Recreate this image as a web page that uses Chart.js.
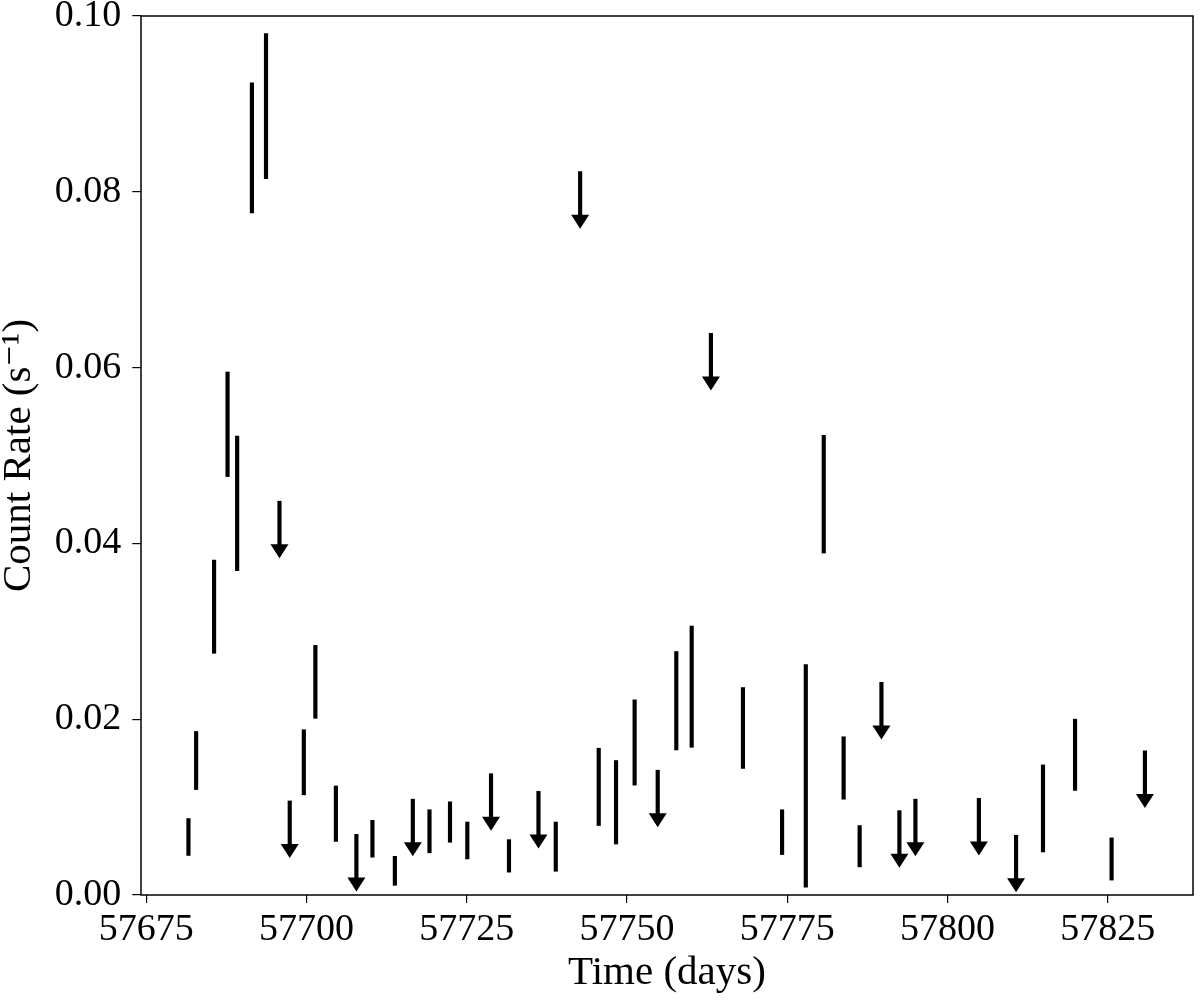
<!DOCTYPE html>
<html>
<head>
<meta charset="utf-8">
<script src="https://cdn.jsdelivr.net/npm/chart.js@4.4.1/dist/chart.umd.min.js"></script>
<style>
  body { margin: 0; background: #fff; }
  #wrap { width: 1200px; height: 1000px; }
</style>
</head>
<body>
<div id="wrap"><canvas id="lc" width="1200" height="1000"></canvas></div>
<script>
// detections: time (MJD) with the low / high end of the error bar
const detDays = [57681.6, 57682.8, 57685.6, 57687.7, 57689.2, 57691.5, 57693.7,
  57699.6, 57701.4, 57704.6, 57710.3, 57713.8, 57719.2, 57722.4, 57725.1,
  57731.6, 57738.9, 57745.6, 57748.3, 57751.2, 57757.7, 57760.1, 57768.1,
  57774.2, 57777.9, 57780.7, 57783.8, 57786.3, 57814.9, 57819.9, 57825.6];
const detLow = [0.0045, 0.0120, 0.0275, 0.0476, 0.0369, 0.0776, 0.0815,
  0.0114, 0.0201, 0.0061, 0.0043, 0.0011, 0.0048, 0.0060, 0.0041,
  0.0026, 0.0027, 0.0079, 0.0058, 0.0125, 0.0165, 0.0168, 0.0144,
  0.0046, 0.0009, 0.0389, 0.0109, 0.0032, 0.0049, 0.0119, 0.0017];
const detHigh = [0.0087, 0.0186, 0.0381, 0.0595, 0.0522, 0.0924, 0.0980,
  0.0188, 0.0284, 0.0124, 0.0085, 0.0044, 0.0097, 0.0106, 0.0083,
  0.0063, 0.0083, 0.0167, 0.0153, 0.0222, 0.0277, 0.0306, 0.0236,
  0.0097, 0.0262, 0.0523, 0.0180, 0.0079, 0.0148, 0.0200, 0.0065];

// upper limits (arrows pointing down)
const ulDays = [57695.8, 57697.4, 57707.8, 57716.6, 57728.8, 57736.2, 57742.7,
  57754.8, 57763.1, 57789.7, 57792.5, 57795.0, 57804.9, 57810.7, 57830.8];
const ulValues = [0.0448, 0.0107, 0.0069, 0.0109, 0.0138, 0.0118, 0.0823,
  0.0142, 0.0639, 0.0242, 0.0096, 0.0109, 0.0110, 0.0068, 0.0164];
const ARROW_LEN = 0.0065;

const xTickValues = [57675, 57700, 57725, 57750, 57775, 57800, 57825];
const yTickValues = [0, 0.02, 0.04, 0.06, 0.08, 0.10];

const FONT = "'Liberation Serif', 'DejaVu Serif', serif";

// arrow heads + full box around the plot
const arrowHeads = {
  id: "arrowHeads",
  afterDatasetsDraw(chart) {
    const ctx = chart.ctx;
    const x = chart.scales.x, y = chart.scales.y;
    ctx.save();
    ctx.fillStyle = "#000";
    ulDays.forEach((d, i) => {
      const px = x.getPixelForValue(d);
      const tip = y.getPixelForValue(ulValues[i] - ARROW_LEN);
      ctx.beginPath();
      ctx.moveTo(px - 9, tip - 14);
      ctx.lineTo(px + 9, tip - 14);
      ctx.lineTo(px, tip);
      ctx.closePath();
      ctx.fill();
    });
    const a = chart.chartArea;
    ctx.strokeStyle = "#000";
    ctx.lineWidth = 1.5;
    ctx.strokeRect(a.left, a.top, a.right - a.left, a.bottom - a.top);
    ctx.restore();
  }
};

const canvas = document.querySelector("#lc");
let options = {
  type: "bar",
  data: {
    datasets: [
      {
        // error bars of the detections
        data: detDays.map((d, i) => ({ x: d, y: [detLow[i], detHigh[i]] })),
        backgroundColor: "#000",
        borderWidth: 0,
        barThickness: 3.5,
        grouped: false,
      },
      {
        // shafts of the upper limit arrows
        data: ulDays.map((d, i) => ({ x: d, y: [ulValues[i] - ARROW_LEN * 0.8, ulValues[i]] })),
        backgroundColor: "#000",
        borderWidth: 0,
        barThickness: 3.5,
        grouped: false,
      },
    ],
  },
  options: {
    responsive: false,
    animation: false,
    layout: { padding: { top: 16, right: 7, left: 0, bottom: 0 } },
    scales: {
      x: {
        type: "linear",
        min: 57674.2,
        max: 57838.3,
        offset: false,
        afterBuildTicks: (s) => { s.ticks = xTickValues.map((v) => ({ value: v })); },
        afterFit: (s) => { s.height = 105; s.paddingLeft = 0; s.paddingRight = 0; },
        ticks: {
          callback: (v) => String(v),
          color: "#000",
          font: { family: FONT, size: 38 },
          padding: 4,
          maxRotation: 0,
          autoSkip: false,
        },
        grid: { offset: false, drawOnChartArea: false, tickLength: 8, color: "#000", lineWidth: 1.2 },
        border: { display: false },
        title: {
          display: true,
          text: "Time (days)",
          color: "#000",
          font: { family: FONT, size: 41, lineHeight: 1.29 },
          padding: { top: 0, bottom: 0 },
        },
      },
      y: {
        min: 0,
        max: 0.1,
        afterBuildTicks: (s) => { s.ticks = yTickValues.map((v) => ({ value: v })); },
        afterFit: (s) => { s.width = 141; s.paddingTop = 0; s.paddingBottom = 0; },
        ticks: {
          callback: (v) => v.toFixed(2),
          color: "#000",
          font: { family: FONT, size: 38 },
          padding: 11,
        },
        grid: { drawOnChartArea: false, tickLength: 8.7, color: "#000", lineWidth: 1.2 },
        border: { display: false },
        title: {
          display: true,
          text: "Count Rate (s\u207B\u00B9)",
          color: "#000",
          font: { family: FONT, size: 41, lineHeight: 0.92 },
          padding: { top: 0, bottom: 0 },
        },
      },
    },
    plugins: {
      legend: { display: false },
      tooltip: { enabled: false },
    },
  },
  plugins: [arrowHeads],
};
const chart = new Chart(canvas.getContext("2d"), options);
</script>
</body>
</html>
